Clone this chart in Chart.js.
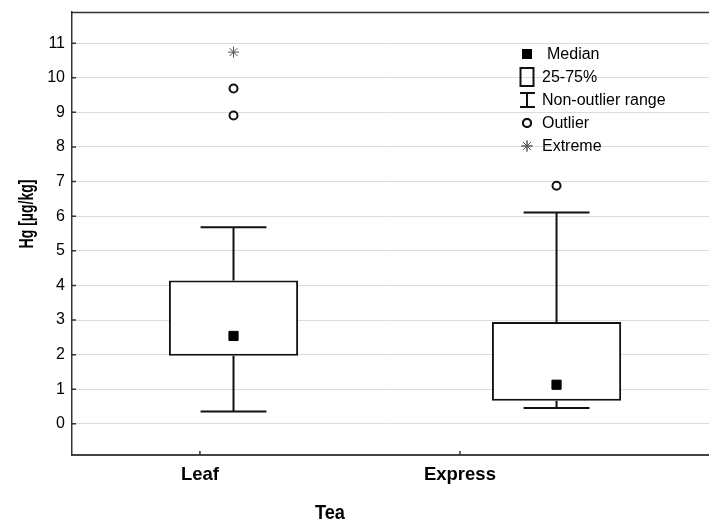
<!DOCTYPE html>
<html>
<head>
<meta charset="utf-8">
<script src="https://cdn.jsdelivr.net/npm/chart.js@4/dist/chart.umd.min.js"></script>
<style>
  html, body { margin: 0; padding: 0; background: #fff; overflow: hidden; }
  canvas { display: block; }
</style>
</head>
<body>
<canvas id="chart" width="709" height="527"></canvas>
<script>
// Hg content by tea type: box-and-whisker summary
const categories = ['Leaf', 'Express'];
const medians = [2.54, 1.13];
const q1 = [1.97, 0.67];
const q3 = [4.14, 2.94];
const whiskerLow = [0.36, 0.46];
const whiskerHigh = [5.68, 6.11];
const outliers = [[9.69, 8.91], [6.88]];
const extremes = [[10.74], []];
const yTicks = [0, 1, 2, 3, 4, 5, 6, 7, 8, 9, 10, 11];
const legendLabels = ['Median', '25-75%', 'Non-outlier range', 'Outlier', 'Extreme'];
const xTitle = 'Tea';
const yTitle = 'Hg [µg/kg]';

const FONT = "'Liberation Sans', Arial, Helvetica, sans-serif";
const NARROW = "'Liberation Sans Narrow', 'Arial Narrow', 'Liberation Sans', Arial, sans-serif";
const INK = '#111';

const catTicks = () => categories.map((c, i) => ({ value: i + 1 }));

// whiskers: vertical stems and caps, drawn under the boxes
const whiskerPlugin = {
  id: 'whiskers',
  beforeDatasetsDraw(chart) {
    const { ctx, scales: { x, y } } = chart;
    const bars = chart.getDatasetMeta(0).data;
    ctx.save();
    ctx.strokeStyle = INK;
    ctx.lineWidth = 2;
    categories.forEach((c, i) => {
      const px = x.getPixelForValue(i + 1);
      const half = bars[i] ? bars[i].width * 0.255 : 32;
      const yHi = y.getPixelForValue(whiskerHigh[i]);
      const yLo = y.getPixelForValue(whiskerLow[i]);
      ctx.beginPath();
      ctx.moveTo(px, yHi); ctx.lineTo(px, y.getPixelForValue(q3[i]));
      ctx.moveTo(px, y.getPixelForValue(q1[i])); ctx.lineTo(px, yLo);
      ctx.moveTo(px - half, yHi); ctx.lineTo(px + half, yHi);
      ctx.moveTo(px - half, yLo); ctx.lineTo(px + half, yLo);
      ctx.stroke();
    });
    ctx.restore();
  }
};

// top frame line and inward tick marks
const framePlugin = {
  id: 'frame',
  afterDatasetsDraw(chart) {
    const { ctx, chartArea: a, scales: { y, xl } } = chart;
    ctx.save();
    ctx.strokeStyle = '#333';
    ctx.lineWidth = 1.5;
    ctx.beginPath();
    ctx.moveTo(a.left, a.top + 0.5); ctx.lineTo(a.right, a.top + 0.5);
    y.ticks.forEach((t, i) => {
      const py = y.getPixelForTick(i);
      ctx.moveTo(a.left, py); ctx.lineTo(a.left + 4, py);
    });
    xl.ticks.forEach((t, i) => {
      const px = xl.getPixelForTick(i);
      ctx.moveTo(px, a.bottom); ctx.lineTo(px, a.bottom - 4);
    });
    ctx.stroke();
    ctx.restore();
  }
};

// key for the box-plot symbols
const keyPlugin = {
  id: 'boxKey',
  afterDatasetsDraw(chart) {
    const ctx = chart.ctx;
    const sx = 527, textX = 542, y0 = 54, step = 23;
    ctx.save();
    ctx.fillStyle = '#000';
    ctx.strokeStyle = INK;
    const rows = legendLabels.map((t, i) => y0 + i * step);
    // median
    ctx.fillRect(sx - 5, rows[0] - 5, 10, 10);
    // 25-75% box
    ctx.lineWidth = 2;
    ctx.strokeRect(sx - 6.5, rows[1] - 9, 13, 18);
    // non-outlier range
    ctx.beginPath();
    ctx.moveTo(sx, rows[2] - 7); ctx.lineTo(sx, rows[2] + 7);
    ctx.moveTo(sx - 7, rows[2] - 7); ctx.lineTo(sx + 8, rows[2] - 7);
    ctx.moveTo(sx - 7, rows[2] + 7); ctx.lineTo(sx + 8, rows[2] + 7);
    ctx.stroke();
    // outlier
    ctx.fillStyle = '#fff';
    Chart.helpers.drawPoint(ctx, { pointStyle: 'circle', radius: 4, borderWidth: 2 }, sx, rows[3]);
    ctx.fill(); ctx.stroke();
    // extreme
    ctx.strokeStyle = '#555';
    ctx.lineWidth = 1;
    Chart.helpers.drawPoint(ctx, { pointStyle: 'star', radius: 5.5, borderWidth: 1 }, sx, rows[4]);
    ctx.stroke();
    // labels
    ctx.fillStyle = '#000';
    ctx.font = `16px ${FONT}`;
    ctx.textAlign = 'left';
    ctx.textBaseline = 'middle';
    legendLabels.forEach((t, i) => {
      ctx.fillText(t, i === 0 ? textX + 5 : textX, rows[i] + 1);
    });
    ctx.restore();
  }
};

// axis titles
const titlePlugin = {
  id: 'axisTitles',
  afterDraw(chart) {
    const { ctx, scales: { xl } } = chart;
    const cx = (xl.getPixelForValue(1) + xl.getPixelForValue(categories.length)) / 2;
    ctx.save();
    ctx.fillStyle = '#000';
    ctx.textAlign = 'center';
    ctx.textBaseline = 'middle';
    ctx.font = `bold 21px ${NARROW}`;
    ctx.fillText(xTitle, cx, 513, 30);
    ctx.translate(27, 214);
    ctx.rotate(-Math.PI / 2);
    ctx.font = `bold 20px ${NARROW}`;
    ctx.fillText(yTitle, 0, 0, 69);
    ctx.restore();
  }
};

const noEdgePadding = s => {
  s.paddingLeft = 0; s.paddingRight = 0; s.paddingTop = 0; s.paddingBottom = 0;
};

new Chart(document.getElementById('chart'), {
  type: 'bar',
  data: {
    datasets: [
      {
        type: 'bar',
        label: '25-75%',
        data: categories.map((c, i) => ({ x: i + 1, y: [q1[i], q3[i]] })),
        backgroundColor: '#fff',
        borderColor: INK,
        borderWidth: 2,
        borderSkipped: false,
        barPercentage: 0.4,
        categoryPercentage: 1,
        xAxisID: 'x',
        yAxisID: 'y',
        order: 3
      },
      {
        type: 'scatter',
        label: 'Median',
        data: categories.map((c, i) => ({ x: i + 1, y: medians[i] })),
        pointStyle: 'rect',
        pointRadius: 6.5,
        pointBackgroundColor: '#000',
        pointBorderColor: '#000',
        pointBorderWidth: 1,
        xAxisID: 'x',
        yAxisID: 'y',
        order: 1
      },
      {
        type: 'scatter',
        label: 'Outlier',
        data: outliers.flatMap((vals, i) => vals.map(v => ({ x: i + 1, y: v }))),
        pointStyle: 'circle',
        pointRadius: 4,
        pointBackgroundColor: '#fff',
        pointBorderColor: INK,
        pointBorderWidth: 2,
        xAxisID: 'x',
        yAxisID: 'y',
        order: 1
      },
      {
        type: 'scatter',
        label: 'Extreme',
        data: extremes.flatMap((vals, i) => vals.map(v => ({ x: i + 1, y: v }))),
        pointStyle: 'star',
        pointRadius: 5.5,
        pointBorderColor: '#555',
        pointBorderWidth: 1,
        xAxisID: 'x',
        yAxisID: 'y',
        order: 1
      }
    ]
  },
  options: {
    responsive: false,
    animation: false,
    devicePixelRatio: 1,
    events: [],
    layout: { autoPadding: false, padding: { top: 12, right: 0, bottom: 0, left: 0 } },
    plugins: { legend: { display: false }, tooltip: { enabled: false } },
    scales: {
      x: {
        type: 'linear',
        display: false,
        offset: false,
        min: 0.5,
        max: 2.472,
        afterBuildTicks: s => { s.ticks = catTicks(); }
      },
      xl: {
        type: 'linear',
        axis: 'x',
        position: 'bottom',
        offset: false,
        min: 0.508,
        max: 2.958,
        afterBuildTicks: s => { s.ticks = catTicks(); },
        afterFit: s => { s.height = 72; noEdgePadding(s); },
        ticks: {
          callback: v => categories[v - 1] ?? '',
          font: { family: FONT, size: 18.5, weight: 'bold' },
          color: '#000',
          padding: 9,
          maxRotation: 0,
          autoSkip: false
        },
        grid: { drawOnChartArea: false, drawTicks: false, offset: false },
        border: { display: true, color: '#444', width: 2 }
      },
      y: {
        type: 'linear',
        min: -0.9,
        max: 11.9,
        afterBuildTicks: s => { s.ticks = yTicks.map(v => ({ value: v })); },
        afterFit: s => { s.width = 72; noEdgePadding(s); },
        ticks: { font: { family: FONT, size: 16 }, color: '#000', padding: 7 },
        grid: { color: '#dcdcdc', lineWidth: 1, drawTicks: false },
        border: { display: true, color: '#333', width: 1.5 }
      }
    }
  },
  plugins: [whiskerPlugin, framePlugin, keyPlugin, titlePlugin]
});
</script>
</body>
</html>
